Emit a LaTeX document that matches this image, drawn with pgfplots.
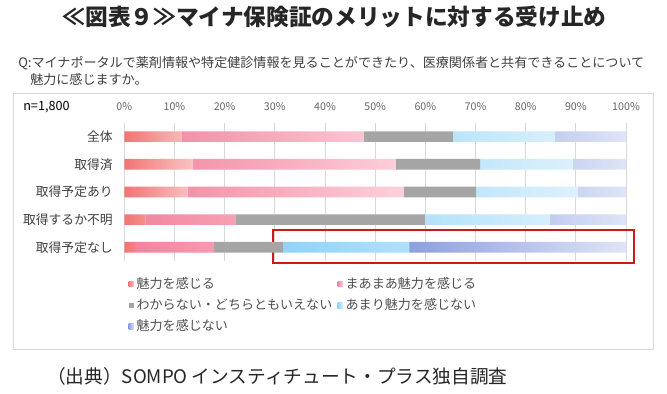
\documentclass[border=0pt]{standalone}
\usepackage{pgfplots}
\pgfplotsset{compat=1.18}
\usepackage{fontspec}
\setmainfont{Noto Sans CJK JP}
\definecolor{c1l}{HTML}{F27474}
\definecolor{c1r}{HTML}{FAC4C4}
\definecolor{c2l}{HTML}{F2849E}
\definecolor{c2r}{HTML}{FDD0DA}
\definecolor{c3}{HTML}{A5A5A5}
\definecolor{c4l}{HTML}{8ED4F8}
\definecolor{c4r}{HTML}{DDF1FC}
\definecolor{c5l}{HTML}{8C9FE0}
\definecolor{c5r}{HTML}{DFE5F7}
\definecolor{frm}{HTML}{D9D9D9}
\definecolor{txt}{HTML}{404040}
\definecolor{lgt}{HTML}{505050}
\definecolor{boxred}{HTML}{D01818}
\begin{document}
\begin{tikzpicture}
\useasboundingbox (0,0) rectangle (500.25pt,-294.75pt);
\fill[white] (0,0) rectangle (500.25pt,-294.75pt);
\begin{scope}[x=0.75pt,y=-0.75pt]
\draw[frm, line width=0.75pt] (13,93) rectangle (653,349);
\node[font=\fontsize{17}{20}\selectfont\bfseries, text=black!85] at (334.7,17) {≪図表９≫マイナ保険証のメリットに対する受け止め};
\node[anchor=west, font=\fontsize{9.8}{12}\selectfont, text=txt, inner sep=0pt] at (18,63) {Q:マイナポータルで薬剤情報や特定健診情報を見ることができたり、医療関係者と共有できることについて};
\node[anchor=west, font=\fontsize{9.8}{12}\selectfont, text=txt, inner sep=0pt] at (30,80) {魅力に感じますか。};
\node[anchor=west, font=\fontsize{9.5}{11}\selectfont, text=black, inner sep=0pt] at (23,106.7) {n=1,800};
\node[anchor=west, font=\fontsize{14}{16}\selectfont, text=black!85, inner sep=0pt] at (47,376) {（出典）SOMPO インスティチュート・プラス独自調査};
\end{scope}
\begin{axis}[
 at={(93.225pt,-195.825pt)}, anchor=south west,
 scale only axis, width=376.3pt, height=103.7pt,
 xbar stacked, bar width=8pt,
 xmin=0, xmax=100, ymin=-0.5, ymax=4.5,
 axis line style={draw=none}, major tick length=0pt,
 xtick={0,10,...,100}, xticklabel pos=upper,
 xticklabel={\pgfmathprintnumber{\tick}\%},
 xticklabel style={anchor=center, yshift=12.2pt, font=\fontsize{8}{9}\selectfont, text=black!60},
 ytick={0,...,4}, yticklabels={取得予定なし,取得するか不明,取得予定あり,取得済,全体},
 yticklabel style={anchor=east, inner sep=0pt, xshift=-8.5pt, font=\fontsize{9.6}{11}\selectfont, text=txt},
 xmajorgrids, grid style={frm, line width=0.6pt},
 /pgf/number format/assume math mode=true,
 clip=false,
 legend columns=2, legend cell align=left,
 legend style={draw=none, fill=none, at={(axis description cs:0,-0.08)}, anchor=north west,
   font=\fontsize{9.8}{12}\selectfont, text=lgt, row sep=2pt,
   /tikz/every even column/.append style={column sep=2pt}},
 legend image code/.code={\fill[#1] (0pt,-2pt) rectangle (4pt,2pt);},
]
\addplot[draw=none, left color=c1l, right color=c1r] coordinates {(11.4,4) (13.7,3) (12.6,2) (4.2,1) (2.2,0)};
\addplot[draw=none, left color=c2l, right color=c2r] coordinates {(36.3,4) (40.4,3) (43.1,2) (18.1,1) (15.7,0)};
\addplot[draw=none, fill=c3] coordinates {(17.8,4) (16.8,3) (14.4,2) (37.6,1) (13.7,0)};
\addplot[draw=none, left color=c4l, right color=c4r] coordinates {(20.3,4) (18.5,3) (20.3,2) (24.9,1) (25.2,0)};
\addplot[draw=none, left color=c5l, right color=c5r] coordinates {(14.2,4) (10.6,3) (9.6,2) (15.2,1) (43.2,0)};
\legend{魅力を感じる,まあまあ魅力を感じる,わからない・どちらともいえない,あまり魅力を感じない,魅力を感じない}
\draw[boxred, line width=1.5pt] (axis cs:29.7,0.626) rectangle (axis cs:101.5,-0.579);
\end{axis}
\end{tikzpicture}
\end{document}
